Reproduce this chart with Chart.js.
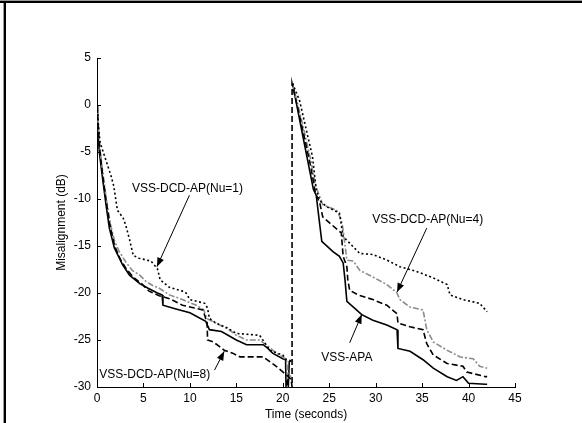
<!DOCTYPE html>
<html>
<head>
<meta charset="utf-8">
<script src="https://cdn.jsdelivr.net/npm/chart.js@4.4.1/dist/chart.umd.min.js"></script>
<style>
  html, body { margin: 0; padding: 0; background: #fff; }
  #wrap { width: 582px; height: 423px; position: relative; }
</style>
</head>
<body>
<div id="wrap"><canvas id="misalign-chart" width="582" height="423"></canvas></div>
<script>
// values (time in seconds, misalignment in dB)
const timeTicks = [0, 5, 10, 15, 20, 25, 30, 35, 40, 45];
const dbTicks = [-30, -25, -20, -15, -10, -5, 0, 5];

const apaTime = [0, 0.07, 0.25, 0.6, 0.97, 1.33, 1.87, 2.76, 3.5, 4.6, 5.5, 6.5, 7.0, 7.1, 8.5, 10.0, 11.7, 12.1, 13.4, 15.0, 16.1, 17.9, 18.4, 18.9, 20.0, 20.3, 20.35, 20.5, 20.6, 20.7, 20.95,
  21.05, 22.0, 23.3, 23.6, 24.0, 24.2, 25.4, 26.1, 26.5, 26.7, 26.9, 27.6, 28.5, 29.7, 31.2, 32.3, 32.4, 33.7, 35.1, 36.2, 37.7, 38.7, 39.4, 40.0, 41.8, 42.0];
const apaValues = [0, -2.5, -5.0, -7.8, -10.6, -13.1, -15.2, -17.0, -18.1, -19.0, -19.5, -20.0, -20.2, -21.3, -21.7, -22.1, -23.0, -23.9, -24.1, -25.0, -25.5, -25.5, -25.9, -26.4, -27.0, -27.1, -29.9, -29.4, -29.9, -27.3, -27.2,
  2.3, -2.5, -9.0, -9.6, -12.9, -14.5, -15.6, -16.1, -16.8, -18.6, -20.9, -21.5, -22.3, -22.9, -23.4, -23.9, -25.9, -26.2, -27.1, -28.0, -28.9, -29.3, -28.9, -29.6, -29.7, -29.7];

const nu4Time = [0, 0.1, 0.3, 0.6, 1.0, 1.4, 1.9, 2.4, 3.1, 3.8, 4.6, 5.3, 6.0, 6.7, 7.8, 9.2, 10.7, 11.5, 11.8, 13.2, 14.2, 15.0, 16.1, 17.5, 18.2, 19.3, 20.0, 20.4, 20.6, 20.9,
  21.05, 22.0, 23.0, 23.5, 24.3, 25.8, 26.3, 26.5, 26.9, 27.6, 28.3, 29.7, 31.2, 32.3, 32.6, 33.7, 35.1, 35.5, 36.2, 37.7, 39.1, 40.5, 41.2, 42.0];
const nu4Values = [0, -1.5, -4.5, -7.0, -10.0, -12.5, -14.5, -15.6, -16.7, -17.6, -18.1, -18.8, -19.2, -19.5, -20.2, -20.7, -21.3, -21.8, -22.7, -23.4, -23.9, -24.5, -25.0, -25.0, -25.5, -26.4, -26.8, -27.1, -29.0, -28.8,
  2.3, -1.5, -5.8, -8.5, -10.6, -11.2, -12.2, -13.3, -16.5, -16.6, -17.6, -18.3, -19.1, -20.0, -20.7, -21.5, -21.8, -23.9, -25.2, -26.1, -26.8, -27.0, -27.8, -28.0];

const nu1Time = [0, 0.1, 0.3, 0.5, 1.0, 1.5, 1.8, 2.2, 2.8, 3.1, 3.5, 3.9, 4.5, 5.8, 6.5, 6.8, 7.8, 9.2, 9.6, 10.0, 11.6, 11.9, 12.1, 12.8, 14.0, 15.0, 17.5, 18.0, 18.6, 20.0, 20.4, 20.9,
  21.05, 21.8, 22.5, 23.2, 23.6, 24.0, 24.7, 26.1, 26.5, 27.2, 27.9, 28.3, 29.7, 31.2, 32.6, 34.4, 36.2, 37.7, 38.0, 39.4, 41.2, 42.0];
const nu1Values = [0, -1.5, -3.8, -4.5, -6.0, -7.5, -8.6, -11.2, -12.0, -12.8, -14.3, -16.0, -16.3, -16.6, -17.4, -18.6, -19.4, -19.8, -20.0, -20.7, -21.1, -21.6, -22.7, -23.2, -23.7, -24.3, -24.5, -25.2, -26.1, -26.6, -27.1, -27.2,
  2.3, 0.5, -2.5, -5.5, -9.0, -10.2, -10.8, -11.5, -14.0, -14.7, -15.4, -15.8, -15.9, -16.5, -17.2, -17.7, -18.4, -19.1, -20.2, -20.7, -21.1, -22.0];

const nu8Time = [0, 0.1, 0.3, 0.6, 1.0, 1.4, 1.9, 2.5, 3.2, 4.0, 4.8, 5.6, 6.7, 7.8, 9.2, 10.5, 11.4, 11.7, 11.85, 11.9, 12.5, 13.2, 13.7, 14.6, 15.4, 17.9, 18.6, 19.3, 20.0, 20.4, 20.9, 21.0,
  21.0, 22.0, 23.0, 23.5, 24.0, 24.3, 25.1, 26.3, 26.5, 26.9, 27.0, 27.2, 28.1, 29.7, 31.2, 32.3, 32.4, 33.7, 35.1, 35.5, 36.2, 37.7, 39.4, 39.8, 41.8, 42.0];
const nu8Values = [0, -1.8, -4.8, -7.4, -10.3, -12.8, -15.0, -16.4, -17.5, -18.4, -19.0, -19.8, -20.3, -20.6, -21.3, -21.6, -21.8, -22.7, -22.9, -25.0, -25.2, -25.7, -26.1, -26.4, -26.8, -26.8, -27.3, -27.8, -28.4, -28.7, -29.2, -30.0,
  2.3, -2.0, -6.5, -9.3, -10.5, -11.9, -12.6, -13.6, -16.1, -17.2, -18.6, -19.7, -20.2, -20.7, -21.3, -22.2, -23.2, -23.6, -23.9, -25.4, -26.6, -27.5, -27.8, -28.4, -28.9, -28.9];

// text callouts: label centre and arrow, in axis units
const callouts = [
  { text: 'VSS-DCD-AP(Nu=1)', at: [9.74, -8.85], from: [9.95, -9.6], to: [6.45, -17.2] },
  { text: 'VSS-DCD-AP(Nu=4)', at: [35.6, -12.25], from: [35.5, -13.1], to: [32.3, -19.9] },
  { text: 'VSS-DCD-AP(Nu=8)', at: [6.22, -28.7], from: [12.65, -28.2], to: [13.7, -26.2] },
  { text: 'VSS-APA', at: [26.9, -26.9], from: [27.2, -25.3], to: [28.5, -22.3] }
];

const FONT = '"Liberation Sans", Arial, Helvetica, sans-serif';

function zip(xs, ys) {
  return xs.map((x, i) => ({ x: x, y: ys[i] }));
}

// hide the reset jump on every curve except the dashed one, which draws it
const hideJump = {
  borderColor: ctx => (ctx.p1.parsed.y - ctx.p0.parsed.y > 15 ? 'rgba(0,0,0,0)' : undefined)
};

const frameAndNotes = {
  id: 'frameAndNotes',
  afterDraw(chart) {
    const { ctx, chartArea, scales: { x, y } } = chart;
    ctx.save();

    // outer frame (top and left only)
    ctx.fillStyle = '#9a9a9a';
    ctx.fillRect(0, 0, chart.width, 1);
    ctx.fillRect(3, 0, 1, chart.height);
    ctx.fillStyle = '#000';
    ctx.fillRect(0, 1, chart.width, 2);
    ctx.fillRect(4, 1, 2, chart.height);

    // inward tick marks
    ctx.strokeStyle = '#000';
    ctx.lineWidth = 1;
    ctx.beginPath();
    timeTicks.forEach(t => {
      const px = Math.round(x.getPixelForValue(t)) + 0.5;
      ctx.moveTo(px, chartArea.bottom);
      ctx.lineTo(px, chartArea.bottom - 4);
    });
    dbTicks.forEach(v => {
      const py = Math.round(y.getPixelForValue(v)) + 0.5;
      ctx.moveTo(chartArea.left, py);
      ctx.lineTo(chartArea.left + 4, py);
    });
    ctx.stroke();

    // callouts
    ctx.font = '12px ' + FONT;
    ctx.textAlign = 'center';
    ctx.textBaseline = 'middle';
    ctx.fillStyle = '#000';
    callouts.forEach(c => {
      ctx.fillText(c.text, x.getPixelForValue(c.at[0]), y.getPixelForValue(c.at[1]));
      const x0 = x.getPixelForValue(c.from[0]);
      const y0 = y.getPixelForValue(c.from[1]);
      const x1 = x.getPixelForValue(c.to[0]);
      const y1 = y.getPixelForValue(c.to[1]);
      const ang = Math.atan2(y1 - y0, x1 - x0);
      ctx.beginPath();
      ctx.moveTo(x0, y0);
      ctx.lineTo(x1, y1);
      ctx.lineWidth = 1;
      ctx.stroke();
      ctx.beginPath();
      ctx.moveTo(x1, y1);
      ctx.lineTo(x1 - 9 * Math.cos(ang) + 3.5 * Math.sin(ang), y1 - 9 * Math.sin(ang) - 3.5 * Math.cos(ang));
      ctx.lineTo(x1 - 9 * Math.cos(ang) - 3.5 * Math.sin(ang), y1 - 9 * Math.sin(ang) + 3.5 * Math.cos(ang));
      ctx.closePath();
      ctx.fill();
    });
    ctx.restore();
  }
};

new Chart(document.getElementById('misalign-chart'), {
  type: 'line',
  data: {
    datasets: [
      {
        label: 'VSS-APA',
        data: zip(apaTime, apaValues),
        borderColor: '#000',
        borderWidth: 1.6,
        segment: hideJump,
        order: 3
      },
      {
        label: 'VSS-DCD-AP(Nu=4)',
        data: zip(nu4Time, nu4Values),
        borderColor: '#8c8c8c',
        borderWidth: 1.6,
        borderDash: [6, 2, 2, 2],
        segment: hideJump,
        order: 2
      },
      {
        label: 'VSS-DCD-AP(Nu=1)',
        data: zip(nu1Time, nu1Values),
        borderColor: '#000',
        borderWidth: 1.6,
        borderDash: [2, 2.5],
        segment: hideJump,
        order: 1
      },
      {
        label: 'VSS-DCD-AP(Nu=8)',
        data: zip(nu8Time, nu8Values),
        borderColor: '#000',
        borderWidth: 1.6,
        borderDash: [6, 3],
        order: 0
      }
    ]
  },
  options: {
    responsive: false,
    animation: false,
    devicePixelRatio: 1,
    layout: { padding: { left: 0, top: 58, right: 67, bottom: 0 } },
    elements: { point: { radius: 0 }, line: { tension: 0 } },
    plugins: { legend: { display: false }, tooltip: { enabled: false } },
    scales: {
      x: {
        type: 'linear',
        min: 0,
        max: 45,
        afterBuildTicks: s => { s.ticks = timeTicks.map(v => ({ value: v })); },
        afterFit: s => { s.height = 36; },
        grid: { drawOnChartArea: false, drawTicks: false },
        border: { display: true, color: '#000', width: 1 },
        ticks: { color: '#000', padding: 4, font: { size: 12, family: FONT }, maxRotation: 0 },
        title: {
          display: true,
          text: 'Time (seconds)',
          color: '#000',
          font: { size: 12, family: FONT },
          padding: { top: 0, bottom: 1 }
        }
      },
      y: {
        type: 'linear',
        min: -30,
        max: 5,
        afterBuildTicks: s => { s.ticks = dbTicks.map(v => ({ value: v })); },
        afterFit: s => { s.width = 97; },
        grid: { drawOnChartArea: false, drawTicks: false },
        border: { display: true, color: '#000', width: 1 },
        ticks: { color: '#000', padding: 6, font: { size: 12, family: FONT } },
        title: {
          display: true,
          text: 'Misalignment (dB)',
          color: '#000',
          font: { size: 12, family: FONT },
          padding: { top: 54, bottom: 0 }
        }
      }
    }
  },
  plugins: [frameAndNotes]
});
</script>
</body>
</html>
